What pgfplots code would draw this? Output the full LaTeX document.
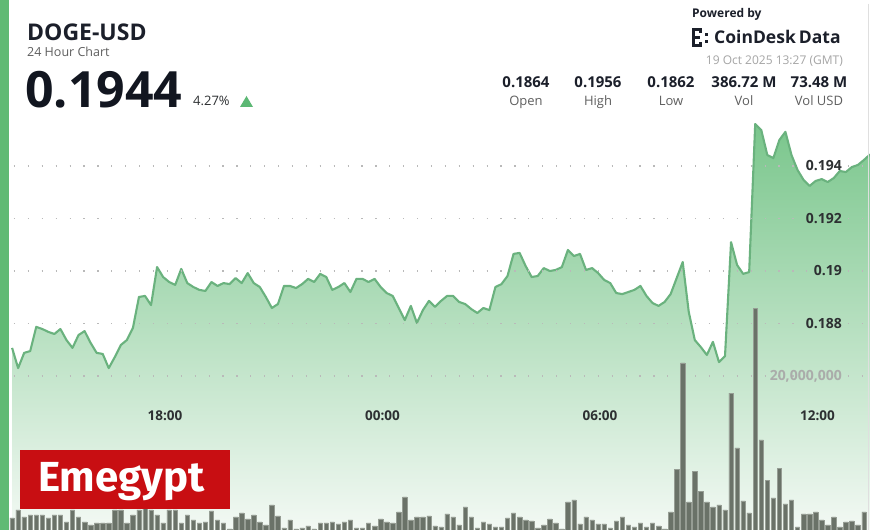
\documentclass[border=0pt]{standalone}
\usepackage{fontspec}
\setmainfont{Open Sans}
\newfontfamily\emfont{Fira Sans}
\usepackage{pgfplots}
\pgfplotsset{compat=1.18}
\usepackage{pgfplotstable}

\definecolor{lineGreen}{RGB}{106,178,126}
\definecolor{fillTop}{RGB}{122,198,140}
\definecolor{fillMid}{RGB}{224,242,228}
\definecolor{fillBot}{RGB}{243,249,244}
\definecolor{leftGreen}{RGB}{96,186,116}
\definecolor{upGreen}{RGB}{92,184,116}
\definecolor{barFill}{RGB}{106,114,104}
\definecolor{barEdge}{RGB}{150,157,148}
\definecolor{gridGray}{RGB}{185,185,185}
\definecolor{titleDark}{RGB}{27,31,42}
\definecolor{bigDark}{RGB}{18,22,32}
\definecolor{subGray}{RGB}{95,95,95}
\definecolor{lightGray}{RGB}{165,165,165}
\definecolor{tickDark}{RGB}{45,48,50}
\definecolor{volGray}{RGB}{170,172,170}
\definecolor{emRed}{RGB}{200,14,18}

% price, one point every 10 minutes (index i)
\pgfplotstableread{
i p
0 0.18707
1 0.18630
2 0.18688
3 0.18695
4 0.18787
5 0.18779
6 0.18768
7 0.18760
8 0.18779
9 0.18737
10 0.18707
11 0.18756
12 0.18771
13 0.18726
14 0.18688
15 0.18684
16 0.18630
17 0.18672
18 0.18718
19 0.18737
20 0.18783
21 0.18901
22 0.18905
23 0.18870
24 0.19015
25 0.18977
26 0.18958
27 0.18947
28 0.19008
29 0.18954
30 0.18939
31 0.18928
32 0.18924
33 0.18958
34 0.18943
35 0.18954
36 0.18950
37 0.18973
38 0.18954
39 0.18992
40 0.18954
41 0.18939
42 0.18901
43 0.18859
44 0.18874
45 0.18943
46 0.18943
47 0.18935
48 0.18950
49 0.18970
50 0.18958
51 0.18989
52 0.18977
53 0.18928
54 0.18939
55 0.18954
56 0.18920
57 0.18970
58 0.18970
59 0.18958
60 0.18970
61 0.18939
62 0.18916
63 0.18905
64 0.18859
65 0.18813
66 0.18867
67 0.18802
68 0.18851
69 0.18886
70 0.18863
71 0.18886
72 0.18905
73 0.18905
74 0.18882
75 0.18874
76 0.18855
77 0.18840
78 0.18859
79 0.18851
80 0.18939
81 0.18950
82 0.18981
83 0.19065
84 0.19069
85 0.19019
86 0.18977
87 0.18981
88 0.19011
89 0.19000
90 0.19004
91 0.19015
92 0.19080
93 0.19057
94 0.19065
95 0.19004
96 0.19011
97 0.18992
98 0.18966
99 0.18954
100 0.18916
101 0.18912
102 0.18920
103 0.18928
104 0.18943
105 0.18905
106 0.18878
107 0.18867
108 0.18882
109 0.18912
110 0.18973
111 0.19034
112 0.18844
113 0.18737
114 0.18710
115 0.18680
116 0.18730
117 0.18653
118 0.18676
119 0.19110
120 0.19023
121 0.18989
122 0.18996
123 0.19560
124 0.19537
125 0.19442
126 0.19430
127 0.19499
128 0.19530
129 0.19442
130 0.19385
131 0.19347
132 0.19324
133 0.19343
134 0.19350
135 0.19339
136 0.19354
137 0.19381
138 0.19377
139 0.19396
140 0.19404
141 0.19423
142 0.19444
}\pricetable

% volume in millions, one bar every 10 minutes
\pgfplotstableread{
i v
0 1.56
1 2.60
2 1.69
3 1.95
4 1.95
5 1.95
6 1.56
7 1.95
8 1.95
9 1.04
10 2.60
11 1.69
12 1.04
13 0.65
14 0.91
15 0.91
16 0.91
17 2.60
18 2.60
19 0.91
20 1.95
21 2.60
22 2.86
23 2.60
24 1.95
25 0.91
26 2.60
27 2.60
28 0.91
29 1.95
30 1.30
31 0.91
32 1.04
33 2.47
34 1.30
35 0.91
36 0.13
37 1.69
38 2.21
39 1.43
40 1.95
41 1.04
42 0.65
43 3.25
44 1.82
45 0.26
46 1.30
47 0.13
48 0.26
49 0.52
50 0.13
51 0.91
52 0.91
53 1.04
54 0.78
55 1.04
56 1.30
57 0.26
58 0.26
59 0.91
60 0.52
61 1.43
62 1.04
63 0.91
64 2.34
65 4.29
66 1.30
67 1.69
68 1.69
69 1.82
70 0.52
71 0.39
72 2.08
73 1.69
74 0.65
75 2.99
76 1.69
77 0.26
78 1.04
79 0.78
80 0.39
81 0.39
82 1.56
83 2.21
84 1.69
85 1.30
86 1.17
87 0.26
88 0.65
89 1.43
90 0.91
91 0.13
92 3.64
93 3.90
94 0.78
95 1.69
96 1.30
97 0.78
98 0.78
99 0.26
100 1.17
101 1.69
102 0.65
103 0.39
104 0.91
105 0.39
106 0.91
107 0.52
108 0.13
109 2.34
110 7.92
111 21.69
112 3.64
113 7.66
114 5.06
115 3.64
116 2.99
117 3.25
118 2.60
119 17.79
120 10.65
121 3.77
122 2.21
123 28.83
124 11.69
125 6.49
126 4.16
127 8.05
128 3.38
129 3.90
130 0.39
131 2.08
132 2.08
133 2.34
134 1.30
135 0.65
136 1.69
137 0.39
138 1.04
139 1.17
140 0.65
141 2.34
}\voltable

\pgfplotsset{
  base/.style={
    scale only axis, width=870pt, height=530pt,
    at={(0pt,0pt)}, anchor=south west,
    xmin=-2, xmax=142,
    axis line style={draw=none},
    major tick length=0pt,
    yticklabel pos=right,
    yticklabel style={anchor=east, inner sep=0pt, xshift=-28pt,
      font=\fontsize{14}{16}\selectfont\bfseries},
  }
}

\begin{document}
\begin{tikzpicture}
\useasboundingbox (0pt,0pt) rectangle (870pt,530pt);
\fill[white] (0pt,0pt) rectangle (870pt,530pt);

% price axis
\begin{axis}[base,
  ymin=0.180133, ymax=0.200324,
  axis on top,
  ytick={0.186,0.188,0.19,0.192,0.194},
  yticklabels={,0.188,0.19,0.192,0.194},
  yticklabel style={text=tickDark},
  ymajorgrids=true,
  major grid style={gridGray, line width=1.2pt, dash pattern=on 1.2pt off 12.7pt},
  xtick={25.3,61.3,97.3,133.3},
  xticklabels={18:00,00:00,06:00,12:00},
  xticklabel style={anchor=center, yshift=114pt, text=tickDark,
      font=\fontsize{13.5}{15}\selectfont\bfseries},
]
\addplot[draw=none, top color=fillTop, middle color=fillMid, bottom color=fillBot]
  table[x=i, y=p] {\pricetable} -- (axis cs:142,0.180133) -- (axis cs:0,0.180133) -- cycle;
\addplot[lineGreen, line width=2.1pt, line join=round] table[x=i, y=p] {\pricetable};
\end{axis}

% volume axis
\begin{axis}[base,
  ymin=0, ymax=68.83,
  xtick=\empty,
  ytick={20},
  yticklabels={20{,}000{,}000},
  yticklabel style={text=volGray},
]
\addplot[ybar, bar width=4.4pt, bar shift=0pt, fill=barFill, draw=barEdge, line width=0.5pt]
  table[x=i, y=v] {\voltable};
\end{axis}

\begin{scope}[shift={(0pt,530pt)}, x=1pt, y=-1pt]
  \fill[leftGreen] (0,0) rectangle (9,530);
  \draw[gray!25, line width=0.8pt] (868.5,4) -- (868.5,530);
  % header
  \node[anchor=base west, inner sep=0, font=\fontsize{23}{26}\selectfont\bfseries, text=titleDark] at (27,41) {DOGE-USD};
  \node[anchor=base west, inner sep=0, font=\fontsize{12.5}{14}\selectfont, text=subGray] at (27,57) {24 Hour Chart};
  \node[anchor=base west, inner sep=0, font=\fontsize{50}{54}\selectfont\bfseries, text=bigDark] at (25,108) {0.1944};
  \node[anchor=base west, inner sep=0, font=\fontsize{13}{15}\selectfont, text=tickDark] at (193,106) {4.27\%};
  \fill[upGreen] (240,107) -- (253,107) -- (246.5,96) -- cycle;
  % powered by
  \node[anchor=base west, inner sep=0, font=\fontsize{12}{14}\selectfont\bfseries, text=titleDark] at (692,18) {Powered by};
  \fill[titleDark] (692,28) rectangle (695,47);
  \fill[titleDark] (692,28) rectangle (702,31);
  \fill[titleDark] (692,44) rectangle (702,47);
  \fill[titleDark] (695,36) rectangle (700,39);
  \fill[titleDark] (699,28) rectangle (702,33);
  \fill[titleDark] (699,42) rectangle (702,47);
  \fill[titleDark] (705,33) rectangle (708,36);
  \fill[titleDark] (705,40) rectangle (708,43);
  \node[anchor=base west, inner sep=0, font=\fontsize{17.5}{20}\selectfont\bfseries, text=titleDark] at (714,44) {CoinDesk\kern-1.5pt\ Data};
  \node[anchor=base east, inner sep=0, font=\fontsize{12}{14}\selectfont, text=lightGray] at (843,65) {19 Oct 2025 13:27 (GMT)};
  % stats
  \foreach \xx/\val/\lab in {526/0.1864/Open, 598/0.1956/High, 671/0.1862/Low, 744/386.72 M/Vol, 819/73.48 M/Vol USD}{
    \node[anchor=base, inner sep=0, font=\fontsize{15}{17}\selectfont\bfseries, text=titleDark] at (\xx,88) {\val};
    \node[anchor=base, inner sep=0, font=\fontsize{13}{15}\selectfont, text=subGray] at (\xx,106) {\lab};
  }
  % logo box
  \fill[emRed] (20,450) rectangle (230,509);
  \node[anchor=base west, inner sep=0, font=\emfont\bfseries\fontsize{42}{44}\selectfont, text=white] at (38,492) {Emegypt};
\end{scope}
\end{tikzpicture}
\end{document}
